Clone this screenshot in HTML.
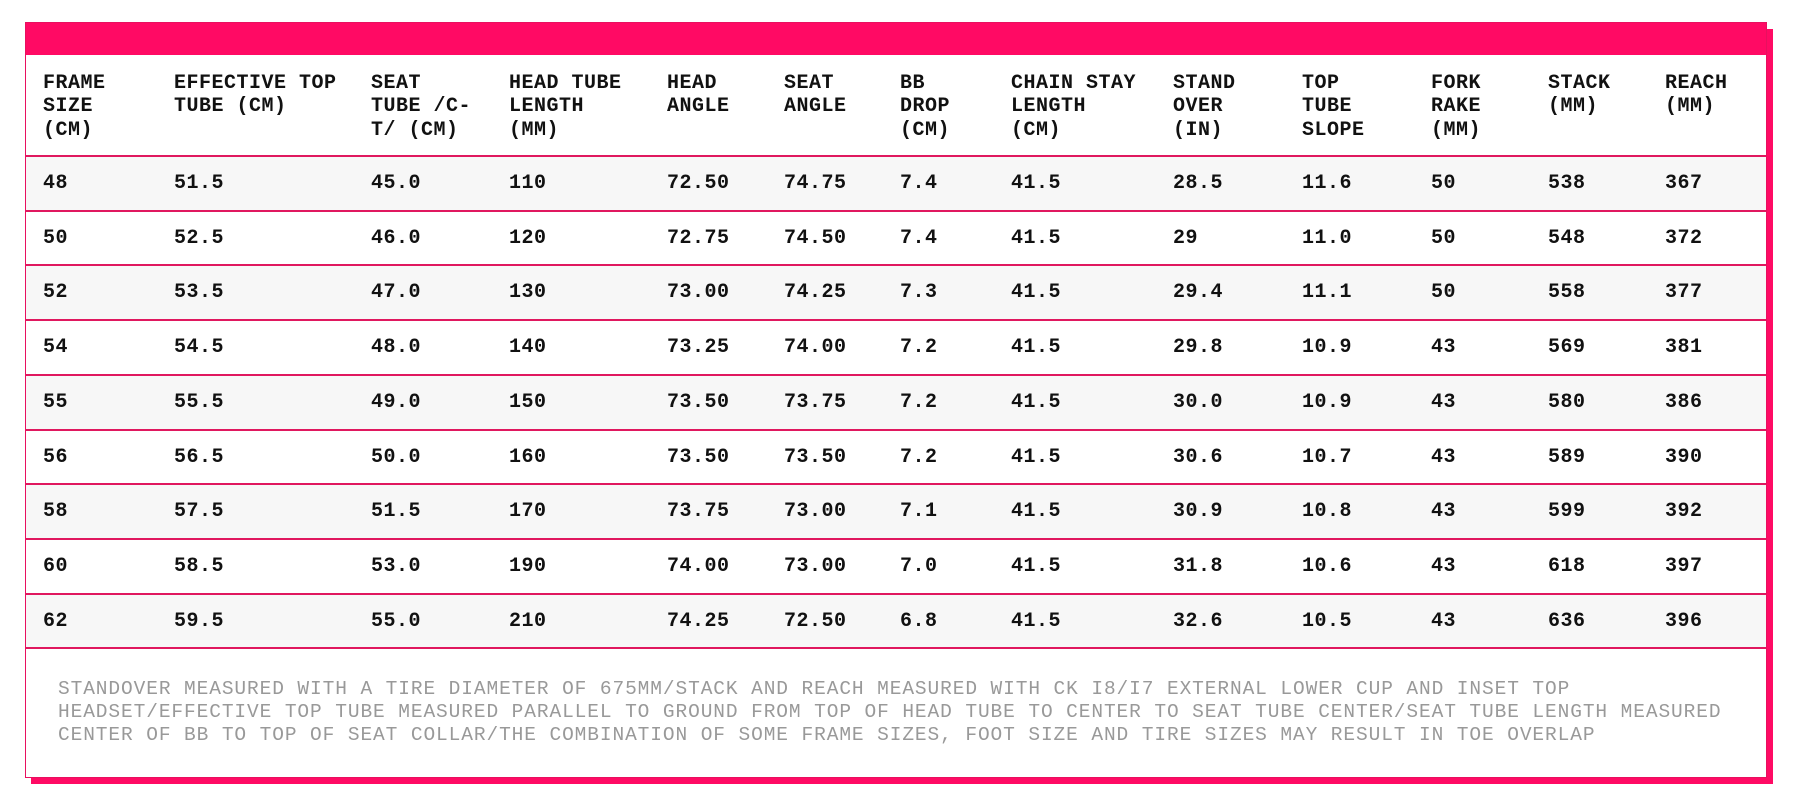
<!DOCTYPE html>
<html><head><meta charset="utf-8"><style>
body{margin:0;width:1798px;height:797px;background:#fff;position:relative;overflow:hidden;font-family:"Liberation Mono",monospace;}
.shadow{position:absolute;left:31px;top:29px;width:1742px;height:755px;background:#ff0a64;}
.box{position:absolute;left:25px;top:22px;width:1740px;height:754px;background:#fff;border:1px solid #e8105f;}
.bar{position:absolute;left:0;top:0;width:1740px;height:32px;background:#ff0a64;}
.h{position:absolute;top:49px;font-weight:bold;font-size:20px;line-height:23.3px;letter-spacing:0.5px;color:#111;}
.row{position:absolute;left:0;width:1740px;height:53px;border-top:2px solid #e0185f;}
.row.g{background:#f7f7f7;}
.c{position:absolute;top:0;line-height:53px;font-weight:bold;font-size:20px;letter-spacing:0.5px;color:#111;}
.note{position:absolute;left:32px;top:655px;font-size:19.5px;line-height:23px;letter-spacing:0.9px;color:#999;white-space:pre;}
</style></head><body>
<div class="shadow"></div>
<div class="box">
<div class="bar"></div>
<div class="h" style="left:17px">FRAME<br>SIZE<br>(CM)</div>
<div class="h" style="left:148px">EFFECTIVE TOP<br>TUBE (CM)</div>
<div class="h" style="left:345px">SEAT<br>TUBE /C-<br>T/ (CM)</div>
<div class="h" style="left:483px">HEAD TUBE<br>LENGTH<br>(MM)</div>
<div class="h" style="left:641px">HEAD<br>ANGLE</div>
<div class="h" style="left:758px">SEAT<br>ANGLE</div>
<div class="h" style="left:874px">BB<br>DROP<br>(CM)</div>
<div class="h" style="left:985px">CHAIN STAY<br>LENGTH<br>(CM)</div>
<div class="h" style="left:1147px">STAND<br>OVER<br>(IN)</div>
<div class="h" style="left:1276px">TOP<br>TUBE<br>SLOPE</div>
<div class="h" style="left:1405px">FORK<br>RAKE<br>(MM)</div>
<div class="h" style="left:1522px">STACK<br>(MM)</div>
<div class="h" style="left:1639px">REACH<br>(MM)</div>
<div id="rows"></div>
<div class="note">STANDOVER MEASURED WITH A TIRE DIAMETER OF 675MM/STACK AND REACH MEASURED WITH CK I8/I7 EXTERNAL LOWER CUP AND INSET TOP
HEADSET/EFFECTIVE TOP TUBE MEASURED PARALLEL TO GROUND FROM TOP OF HEAD TUBE TO CENTER TO SEAT TUBE CENTER/SEAT TUBE LENGTH MEASURED
CENTER OF BB TO TOP OF SEAT COLLAR/THE COMBINATION OF SOME FRAME SIZES, FOOT SIZE AND TIRE SIZES MAY RESULT IN TOE OVERLAP</div>
</div>
<script>
var d=[["48","51.5","45.0","110","72.50","74.75","7.4","41.5","28.5","11.6","50","538","367"],
["50","52.5","46.0","120","72.75","74.50","7.4","41.5","29","11.0","50","548","372"],
["52","53.5","47.0","130","73.00","74.25","7.3","41.5","29.4","11.1","50","558","377"],
["54","54.5","48.0","140","73.25","74.00","7.2","41.5","29.8","10.9","43","569","381"],
["55","55.5","49.0","150","73.50","73.75","7.2","41.5","30.0","10.9","43","580","386"],
["56","56.5","50.0","160","73.50","73.50","7.2","41.5","30.6","10.7","43","589","390"],
["58","57.5","51.5","170","73.75","73.00","7.1","41.5","30.9","10.8","43","599","392"],
["60","58.5","53.0","190","74.00","73.00","7.0","41.5","31.8","10.6","43","618","397"],
["62","59.5","55.0","210","74.25","72.50","6.8","41.5","32.6","10.5","43","636","396"]];
var xs=[17,148,345,483,641,758,874,985,1147,1276,1405,1522,1639];
var h="";
for(var i=0;i<9;i++){h+='<div class="row'+(i%2==0?' g':'')+'" style="top:'+(132+i*54.7)+'px">';
for(var j=0;j<13;j++)h+='<div class="c" style="left:'+xs[j]+'px">'+d[i][j]+'</div>';h+='</div>';}
h+='<div class="row" style="top:'+(132+9*54.7)+'px;height:0"></div>';
document.getElementById("rows").innerHTML=h;
</script>
</body></html>
